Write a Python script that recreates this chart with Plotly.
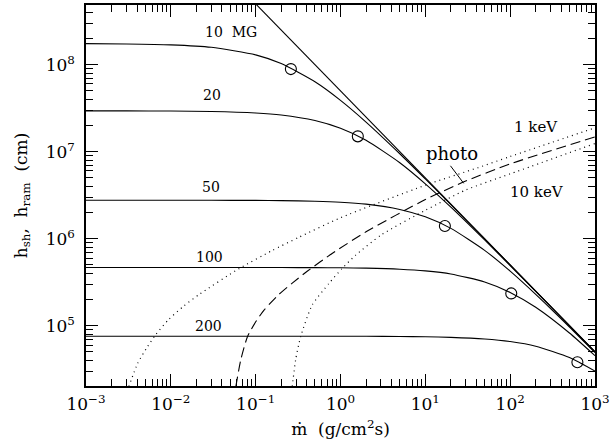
import plotly.graph_objects as go

# ---------------- data ----------------
mdot = [1e-3, 3e-3, 1e-2, 3e-2, 0.1, 0.2, 0.5, 1, 2, 5, 10, 20, 50, 100, 200, 500, 1000]

h_10MG = [1.744e8, 1.732e8, 1.691e8, 1.584e8, 1.296e8, 1.029e8, 6.36e7, 3.89e7, 2.19e7,
          9.47e6, 4.86e6, 2.465e6, 9.94e5, 4.99e5, 2.50e5, 1.0e5, 5.0e4]
h_20MG = [2.948e7, 2.945e7, 2.933e7, 2.90e7, 2.786e7, 2.639e7, 2.278e7, 1.855e7, 1.353e7,
          7.47e6, 4.275e6, 2.305e6, 9.67e5, 4.92e5, 2.48e5, 9.97e4, 4.99e4]
h_50MG = [2.77e6, 2.77e6, 2.769e6, 2.765e6, 2.755e6, 2.74e6, 2.695e6, 2.625e6, 2.494e6,
          2.169e6, 1.783e6, 1.314e6, 7.35e5, 4.235e5, 2.293e5, 9.65e4, 4.91e4]
h_100MG = [4.67e5, 4.67e5, 4.67e5, 4.67e5, 4.666e5, 4.662e5, 4.649e5, 4.627e5, 4.585e5,
           4.462e5, 4.272e5, 3.935e5, 3.184e5, 2.415e5, 1.628e5, 8.24e4, 4.52e4]
h_200MG = [7.57e4, 7.57e4, 7.57e4, 7.57e4, 7.57e4, 7.57e4, 7.57e4, 7.56e4, 7.55e4,
           7.51e4, 7.46e4, 7.35e4, 7.04e4, 6.575e4, 5.81e4, 4.31e4, 3.01e4]

field_labels = ["10\u00a0\u00a0MG", "20", "50", "100", "200"]

# open circles (half-height points)
circ_x = [0.26, 1.6, 17.0, 103.0, 620.0]
circ_y = [8.9e7, 1.5e7, 1.4e6, 2.35e5, 3.8e4]

# h_ram asymptote
ram_x = [0.1, 1000]
ram_y = [5.0e8, 5.0e4]

# 1 keV (dotted)
kev1_x = [3.2e-3, 4.08e-3, 5.31e-3, 6.59e-3, 9.44e-3, 0.01416, 0.0216, 0.0638, 0.157, 0.324,
          1.0, 10.0, 42.0, 100.0, 1000.0]
kev1_y = [2.0e4, 3.72e4, 5.75e4, 7.83e4, 1.18e5, 1.68e5, 2.29e5, 4.53e5, 7.33e5, 1.04e6,
          1.74e6, 4.12e6, 6.56e6, 8.8e6, 1.88e7]

# photo (dashed)
photo_x = [0.0584, 0.0668, 0.080, 0.1002, 0.1255, 0.188, 0.270, 0.405, 0.796, 2.0,
           10.0, 28.0, 100.0, 1000.0]
photo_y = [2.0e4, 4.06e4, 7.48e4, 1.11e5, 1.51e5, 2.29e5, 3.09e5, 4.22e5, 6.76e5, 1.2e6,
           2.82e6, 4.47e6, 7.24e6, 1.48e7]

# 10 keV (dotted)
kev10_x = [0.270, 0.296, 0.339, 0.464, 0.728, 1.04, 1.50, 3.0, 10.0, 30.0, 100.0, 1000.0]
kev10_y = [2.0e4, 4.06e4, 7.48e4, 1.73e5, 3.05e5, 4.53e5, 6.43e5, 1.1e6, 2.12e6, 3.63e6,
           5.56e6, 1.24e7]

x_tickvals = [1e-3, 1e-2, 1e-1, 1e0, 1e1, 1e2, 1e3]
x_ticktext = ["10<sup>\u22123</sup>", "10<sup>\u22122</sup>", "10<sup>\u22121</sup>",
              "10<sup>0</sup>", "10<sup>1</sup>", "10<sup>2</sup>", "10<sup>3</sup>"]
y_tickvals = [1e5, 1e6, 1e7, 1e8]
y_ticktext = ["10<sup>5</sup>", "10<sup>6</sup>", "10<sup>7</sup>", "10<sup>8</sup>"]

# ---------------- figure ----------------
FONT = "DejaVu Serif"
fig = go.Figure()

line_style = dict(color="black", width=1.1, shape="spline", smoothing=0.6)
for h in [h_10MG, h_20MG, h_50MG, h_100MG, h_200MG]:
    fig.add_trace(go.Scatter(x=mdot, y=h, mode="lines", line=line_style,
                             showlegend=False, hoverinfo="skip"))

fig.add_trace(go.Scatter(x=ram_x, y=ram_y, mode="lines",
                         line=dict(color="black", width=1.1), showlegend=False))

fig.add_trace(go.Scatter(x=kev1_x, y=kev1_y, mode="lines",
                         line=dict(color="black", width=1.2, dash="1px,4px",
                                   shape="spline", smoothing=0.6),
                         showlegend=False))
fig.add_trace(go.Scatter(x=photo_x, y=photo_y, mode="lines",
                         line=dict(color="black", width=1.1, dash="10px,5px",
                                   shape="spline", smoothing=0.6),
                         showlegend=False))
fig.add_trace(go.Scatter(x=kev10_x, y=kev10_y, mode="lines",
                         line=dict(color="black", width=1.2, dash="1px,4px",
                                   shape="spline", smoothing=0.6),
                         showlegend=False))

fig.add_trace(go.Scatter(x=circ_x, y=circ_y, mode="markers",
                         marker=dict(symbol="circle-open", size=11, color="black",
                                     line=dict(color="black", width=1.1)),
                         showlegend=False))

# curve labels (paper coordinates)
def label(txt, px, py, size):
    fig.add_annotation(x=px, y=py, xref="paper", yref="paper", text=txt, showarrow=False,
                       xanchor="center", yanchor="middle",
                       font=dict(family=FONT, size=size, color="black"))

label_pos = [(0.285, 0.928), (0.248, 0.763), (0.246, 0.523), (0.242, 0.338), (0.240, 0.157)]
for txt, (px, py) in zip(field_labels, label_pos):
    label(txt, px, py, 14)

label("photo", 0.720, 0.609, 18)
label("1\u00a0keV", 0.885, 0.680, 15)
label("10\u00a0keV", 0.887, 0.510, 15)
fig.add_shape(type="line", xref="paper", yref="paper", x0=0.716, y0=0.578, x1=0.742, y1=0.532,
              line=dict(color="black", width=1))

axis_common = dict(
    type="log", showgrid=False, zeroline=False, showline=True, linecolor="black",
    linewidth=1.5, mirror="allticks", ticks="inside", ticklen=12, tickwidth=1,
    tickcolor="black", tickmode="array",
    tickfont=dict(family=FONT, size=17, color="black"),
    minor=dict(ticks="inside", ticklen=7, tickwidth=1, tickcolor="black",
               dtick="D1", showgrid=False),
)

fig.update_xaxes(**axis_common, range=[-3, 3], tickvals=x_tickvals, ticktext=x_ticktext,
                 ticklabelstandoff=2,
                 title=dict(text="\u1e41\u00a0\u00a0(g/cm<sup>2</sup>s)",
                            font=dict(family=FONT, size=17, color="black"), standoff=10))
fig.update_yaxes(**axis_common, range=[4.307, 8.686], tickvals=y_tickvals, ticktext=y_ticktext,
                 ticklabelstandoff=6,
                 title=dict(text="h<sub>sh</sub>,\u00a0\u00a0h<sub>ram</sub>\u00a0\u00a0(cm)",
                            font=dict(family=FONT, size=17, color="black"), standoff=14))

fig.update_layout(width=613, height=446, margin=dict(l=86, r=16, t=3, b=60),
                  plot_bgcolor="white", paper_bgcolor="white", showlegend=False)

fig.write_html("out.html", config={"displayModeBar": False},
               post_script="document.body.style.margin='0px';")
